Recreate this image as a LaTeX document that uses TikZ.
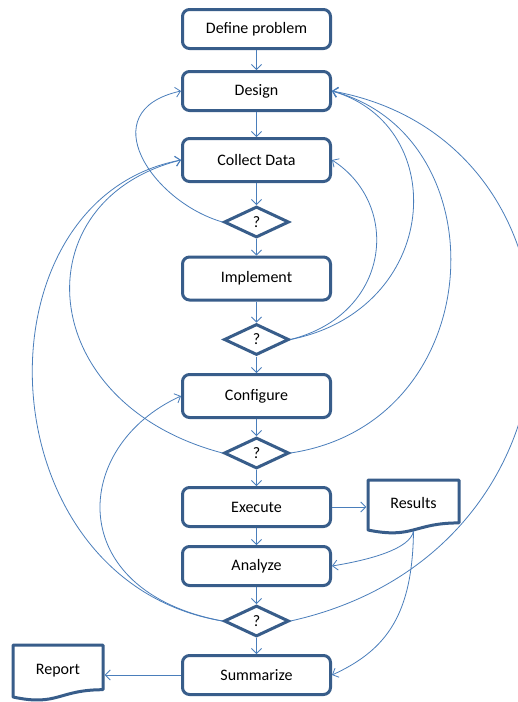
\documentclass[tikz,border=0pt]{standalone}
\usepackage{fontspec}
\setmainfont{Carlito}
\usetikzlibrary{arrows.meta,shapes.geometric,calc}
\definecolor{boxblue}{HTML}{385D8A}
\definecolor{linkblue}{HTML}{4A7EBB}
\begin{document}
\begin{tikzpicture}[x=1pt,y=-1pt,
  txt/.style={font=\fontsize{16}{19}\selectfont, text=black},
  box/.style={txt, draw=boxblue, line width=3pt, rounded corners=7pt, minimum width=148pt, minimum height=39pt, inner sep=0pt},
  tallbox/.style={box, minimum height=43pt},
  dec/.style={txt, draw=boxblue, line width=3pt, shape=diamond, minimum width=65pt, minimum height=31pt, inner sep=0pt},
  link/.style={draw=linkblue, line width=0.8pt, -{Straight Barb[length=5pt,width=10pt]}},
  docnode/.style={txt, inner sep=0pt, minimum height=40pt},
  docline/.style={draw=boxblue, line width=3pt, line join=round}
]
\fill[white] (0,0) rectangle (518,702);
\clip (0,0) rectangle (518,702);

% main column
\node[box]     (def) at (256.5,29)    {Define problem};
\node[box]     (des) at (256.5,91)    {Design};
\node[tallbox] (col) at (256.5,160)   {Collect Data};
\node[dec]     (d1)  at (256.5,222)   {?};
\node[tallbox] (imp) at (256.5,278.5) {Implement};
\node[dec]     (d2)  at (256.5,339.5) {?};
\node[tallbox] (cfg) at (256.5,396)   {Configure};
\node[dec]     (d3)  at (256.5,453)   {?};
\node[box]     (exe) at (256.5,507)   {Execute};
\node[box]     (ana) at (256.5,566)   {Analyze};
\node[dec]     (d4)  at (256.5,621)   {?};
\node[box]     (sum) at (256.5,675)   {Summarize};

% documents
\node[docnode, minimum width=94pt] (res) at (413.5,503) {Results};
\draw[docline] ($(res.center)+(-45.5,-23)$) -- ($(res.center)+(45.5,-23)$)
  -- ($(res.center)+(45.5,19.9)$)
  .. controls ($(res.center)+(0,19.9)$) and ($(res.center)+(0,36.25)$) .. ($(res.center)+(-45.5,27)$)
  -- cycle;
\coordinate (resb) at ($(res.center)+(0,28)$);

\node[docnode, minimum width=93pt] (rep) at (58,671) {Report};
\draw[docline] ($(rep.center)+(-45,-26)$) -- ($(rep.center)+(45,-26)$)
  -- ($(rep.center)+(45,18.7)$)
  .. controls ($(rep.center)+(0,18.7)$) and ($(rep.center)+(0,35.7)$) .. ($(rep.center)+(-45,26)$)
  -- cycle;

% straight flow
\draw[link] (def) -- (des);
\draw[link] (des) -- (col);
\draw[link] (col) -- (d1);
\draw[link] (d1) -- (imp);
\draw[link] (imp) -- (d2);
\draw[link] (d2) -- (cfg);
\draw[link] (cfg) -- (d3);
\draw[link] (d3) -- (exe);
\draw[link] (exe) -- (ana);
\draw[link] (ana) -- (d4);
\draw[link] (d4) -- (sum);
\draw[link] (exe.east) -- (exe.east -| res.west);
\draw[link] (sum.west) -- (sum.west -| rep.east);

% loops
\draw[link] (d1.west) .. controls +(-70,-20) and +(-90,20) .. (des.west);
\draw[link] (d2.east) .. controls +(100,-25) and +(70,45) .. (col.east);
\draw[link] (d2.east) .. controls +(150,-30) and +(120,35) .. (des.east);
\draw[link] (d3.east) .. controls +(200,-30) and +(170,45) .. (des.east);
\draw[link] (d4.east) .. controls +(315,-70) and +(275,50) .. (des.east);
\draw[link] (d3.west) .. controls +(-190,-50) and +(-160,40) .. (col.west);
\draw[link] (d4.west) .. controls +(-240,-40) and +(-210,40) .. (col.west);
\draw[link] (d4.west) .. controls +(-160,-30) and +(-110,50) .. (cfg.west);
\draw[link] (resb) .. controls +(-3,18) and +(37,-6) .. (ana.east);
\draw[link] (resb) .. controls +(-1,83) and +(55,-25) .. (sum.east);
\end{tikzpicture}
\end{document}
